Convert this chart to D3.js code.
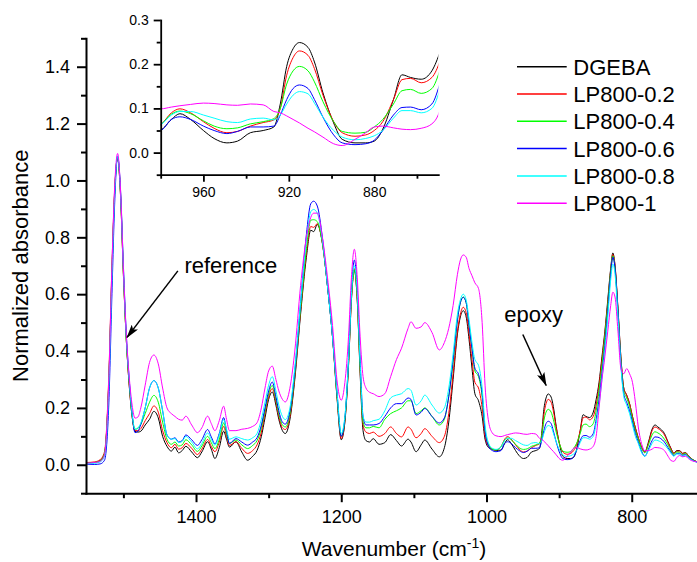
<!DOCTYPE html>
<html>
<head>
<meta charset="utf-8">
<script src="https://cdn.jsdelivr.net/npm/d3@7"></script>
<style>
  body { margin: 0; background: #fff; }
  svg text { font-family: "Liberation Sans", Arial, sans-serif; fill: #000; }
</style>
</head>
<body>
<div id="chart"></div>
<script>
// wavenumber grid (cm-1)
const wavenumber = [
  1550, 1540, 1532, 1526, 1520, 1516, 1512, 1508, 1504, 1500,
  1496, 1492, 1488, 1484, 1480, 1476, 1470, 1464, 1458, 1452,
  1446, 1440, 1434, 1429, 1424, 1419, 1414, 1406, 1398, 1392,
  1384, 1379, 1374, 1368, 1362, 1358, 1354, 1345, 1337, 1329,
  1322, 1316, 1310, 1305, 1300, 1295, 1290, 1286, 1281, 1277,
  1270, 1264, 1256, 1248, 1242, 1238, 1233, 1226, 1219, 1212,
  1206, 1200, 1195, 1190, 1186, 1182, 1178, 1174, 1170, 1166,
  1161, 1156, 1148, 1140, 1132, 1124, 1117, 1108, 1104, 1097,
  1090, 1085, 1075, 1065, 1058, 1052, 1046, 1040, 1036, 1032,
  1028, 1024, 1020, 1016, 1011, 1006, 1002, 997, 992, 987,
  980, 975, 971, 966, 960, 955, 949, 944, 938, 932,
  927, 924, 921, 918, 915, 911, 908, 904, 899, 895,
  889, 884, 880, 876, 871, 867, 863, 858, 853, 849,
  845, 841, 837, 833, 829, 826, 823, 819, 815, 811,
  807, 803, 799, 795, 791, 786, 782, 777, 772, 768,
  764, 760, 755, 750, 746, 742, 738, 734, 730, 726,
  722, 718, 714, 710
];

const dgeba = [
  .006, .008, .015, .040, .30, .66, .96, 1.08, .95, .67,
  .44, .28, .17, .118, .115, .118, .14, .16, .188, .165,
  .10, .065, .048, .062, .042, .05, .065, .045, .025, .045,
  .081, .055, .022, .06, .118, .09, .062, .081, .045, .016,
  .03, .05, .10, .165, .23, .256, .21, .16, .12, .11,
  .17, .30, .53, .73, .825, .82, .845, .78, .63, .45,
  .24, .088, .15, .35, .58, .685, .58, .32, .12, .085,
  .08, .092, .072, .078, .106, .085, .066, .09, .08, .046,
  .07, .087, .055, .028, .06, .15, .30, .46, .52, .542,
  .52, .44, .34, .25, .225, .17, .09, .06, .054, .05,
  .052, .075, .088, .075, .05, .032, .022, .026, .045, .05,
  .058, .11, .195, .235, .249, .238, .205, .135, .067, .03,
  .022, .022, .026, .053, .12, .176, .17, .166, .185, .23,
  .29, .38, .47, .58, .69, .745, .70, .55, .38, .27,
  .245, .215, .17, .13, .095, .06, .045, .08, .125, .14,
  .133, .125, .11, .08, .058, .04, .05, .05, .04, .043,
  .032, .022, .015, .01
];

const lp02 = [
  .008, .010, .018, .046, .32, .68, .97, 1.08, .95, .67,
  .44, .28, .17, .12, .12, .127, .155, .18, .207, .185,
  .12, .078, .06, .072, .055, .06, .075, .058, .036, .055,
  .089, .065, .046, .08, .135, .10, .068, .081, .058, .04,
  .05, .07, .115, .18, .24, .268, .22, .17, .13, .124,
  .18, .31, .54, .745, .838, .835, .848, .78, .63, .45,
  .245, .092, .155, .35, .58, .69, .58, .33, .14, .115,
  .11, .115, .10, .11, .133, .11, .098, .133, .125, .095,
  .11, .127, .10, .078, .10, .18, .32, .47, .53, .554,
  .535, .46, .37, .29, .27, .20, .10, .065, .055, .052,
  .063, .09, .099, .09, .07, .055, .045, .048, .06, .068,
  .074, .10, .175, .215, .23, .22, .19, .13, .07, .045,
  .037, .04, .05, .07, .12, .165, .168, .158, .17, .21,
  .28, .37, .46, .57, .685, .74, .70, .55, .38, .27,
  .245, .215, .17, .13, .095, .06, .045, .075, .12, .133,
  .128, .12, .105, .078, .056, .04, .048, .048, .04, .042,
  .032, .022, .015, .01
];

const lp04 = [
  .006, .008, .014, .040, .30, .66, .96, 1.083, .96, .68,
  .44, .29, .175, .125, .128, .142, .18, .22, .244, .22,
  .15, .09, .072, .08, .066, .07, .088, .07, .047, .066,
  .10, .078, .057, .09, .147, .11, .075, .087, .07, .057,
  .068, .085, .13, .19, .25, .279, .23, .18, .14, .133,
  .19, .32, .55, .76, .86, .862, .855, .78, .63, .45,
  .25, .10, .16, .36, .59, .685, .59, .34, .15, .13,
  .13, .135, .13, .16, .18, .19, .20, .225, .225, .18,
  .19, .20, .17, .14, .16, .24, .36, .51, .57, .59,
  .57, .49, .41, .33, .31, .24, .12, .07, .055, .052,
  .063, .087, .094, .088, .072, .06, .054, .056, .065, .07,
  .077, .10, .155, .185, .195, .185, .16, .115, .07, .048,
  .044, .046, .058, .075, .11, .14, .143, .134, .145, .19,
  .26, .35, .45, .56, .68, .735, .69, .54, .37, .26,
  .235, .205, .16, .12, .09, .055, .042, .07, .105, .116,
  .112, .105, .09, .07, .05, .036, .045, .044, .036, .04,
  .03, .021, .015, .01
];

const lp06 = [
  .002, .001, .003, .016, .22, .58, .92, 1.085, .97, .70,
  .46, .30, .18, .113, .118, .142, .20, .27, .296, .27,
  .19, .105, .09, .095, .08, .085, .105, .088, .068, .088,
  .124, .098, .074, .11, .166, .12, .075, .092, .08, .069,
  .08, .095, .14, .20, .26, .291, .24, .19, .15, .143,
  .20, .33, .57, .81, .918, .927, .91, .80, .63, .45,
  .26, .10, .165, .37, .61, .72, .62, .37, .17, .14,
  .14, .14, .145, .17, .20, .215, .215, .235, .23, .175,
  .185, .198, .17, .147, .165, .24, .37, .51, .57, .589,
  .57, .49, .41, .34, .318, .25, .12, .065, .05, .046,
  .05, .075, .081, .075, .06, .05, .043, .048, .058, .058,
  .06, .085, .12, .145, .153, .145, .12, .08, .04, .022,
  .018, .02, .028, .05, .085, .102, .103, .097, .11, .16,
  .23, .32, .42, .54, .67, .73, .69, .54, .36, .25,
  .22, .19, .15, .11, .08, .045, .03, .055, .085, .098,
  .097, .092, .08, .06, .045, .032, .04, .04, .033, .036,
  .027, .019, .013, .009
];

const lp08 = [
  .004, .005, .010, .030, .28, .64, .95, 1.085, .96, .69,
  .45, .30, .18, .125, .13, .147, .20, .27, .296, .27,
  .19, .105, .09, .092, .078, .082, .10, .08, .056, .075,
  .112, .09, .069, .105, .159, .125, .09, .098, .092, .087,
  .095, .11, .16, .22, .28, .31, .26, .21, .17, .159,
  .21, .34, .57, .79, .89, .898, .885, .79, .63, .45,
  .26, .11, .17, .37, .60, .70, .61, .36, .17, .15,
  .15, .155, .16, .19, .235, .245, .25, .268, .262, .21,
  .225, .245, .21, .182, .20, .27, .39, .53, .58, .60,
  .58, .51, .43, .37, .35, .27, .14, .075, .058, .054,
  .063, .085, .093, .093, .085, .078, .07, .068, .076, .078,
  .074, .085, .11, .13, .138, .133, .112, .08, .05, .035,
  .029, .032, .038, .05, .078, .095, .095, .09, .10, .145,
  .21, .30, .40, .52, .65, .706, .67, .52, .35, .24,
  .21, .18, .14, .10, .075, .04, .03, .05, .075, .087,
  .085, .08, .07, .055, .04, .03, .038, .037, .03, .033,
  .025, .018, .012, .009
];

const lp1 = [
  .006, .008, .012, .035, .31, .68, .98, 1.095, .97, .69,
  .46, .31, .21, .164, .168, .20, .28, .36, .386, .355,
  .27, .20, .18, .17, .16, .157, .171, .14, .113, .13,
  .171, .145, .12, .155, .206, .16, .12, .12, .125, .128,
  .135, .148, .20, .27, .33, .347, .30, .26, .23, .221,
  .28, .40, .63, .80, .87, .885, .885, .80, .66, .49,
  .30, .227, .29, .45, .66, .758, .66, .45, .31, .27,
  .255, .25, .24, .25, .31, .37, .41, .48, .503, .48,
  .485, .50, .465, .404, .43, .48, .56, .67, .72, .738,
  .73, .69, .665, .64, .62, .50, .28, .15, .112, .102,
  .099, .103, .106, .109, .112, .111, .108, .107, .11, .108,
  .093, .09, .083, .075, .067, .055, .047, .035, .02, .016,
  .03, .045, .058, .06, .056, .053, .052, .055, .065, .10,
  .20, .30, .38, .47, .56, .607, .59, .47, .34, .32,
  .338, .32, .29, .22, .133, .07, .049, .05, .055, .061,
  .06, .058, .05, .03, .015, .012, .025, .033, .028, .03,
  .022, .015, .012, .01
];

const seriesNames = ['DGEBA', 'LP800-0.2', 'LP800-0.4', 'LP800-0.6', 'LP800-0.8', 'LP800-1'];
const seriesValues = [dgeba, lp02, lp04, lp06, lp08, lp1];
const seriesColors = ['#000000', '#ff0000', '#00ff00', '#0000ff', '#00ffff', '#ff00ff'];

const xTicks = [1400, 1200, 1000, 800];
const xMinorTicks = [1500, 1300, 1100, 900];
const yTicks = [0, 0.2, 0.4, 0.6, 0.8, 1.0, 1.2, 1.4];
const yMinorTicks = [-0.1, 0.1, 0.3, 0.5, 0.7, 0.9, 1.1, 1.3, 1.5];
const insetXTicks = [960, 920, 880];
const insetXMinorTicks = [980, 940, 900, 860];
const insetYTicks = [0, 0.1, 0.2, 0.3];
const insetYMinorTicks = [-0.05, 0.05, 0.15, 0.25];

const width = 697;
const height = 562;

const svg = d3.select('#chart')
  .append('svg')
  .attr('width', width)
  .attr('height', height)
  .attr('xmlns', 'http://www.w3.org/2000/svg');

const defs = svg.append('defs');
defs.append('marker')
  .attr('id', 'head')
  .attr('markerUnits', 'userSpaceOnUse')
  .attr('markerWidth', 14)
  .attr('markerHeight', 8)
  .attr('refX', 13)
  .attr('refY', 4)
  .attr('orient', 'auto')
  .append('path')
  .attr('d', 'M0,0 L14,4 L0,8 L3,4 Z')
  .attr('fill', '#000');

// main scales
const x = d3.scaleLinear().domain([1551.5, 710]).range([86, 697.1]);
const y = d3.scaleLinear().domain([-0.1, 1.5]).range([493.2, 38.3]);

// inset scales
const xi = d3.scaleLinear().domain([980, 850]).range([160.7, 438.3]);
const yi = d3.scaleLinear().domain([-0.05, 0.3]).range([174.7, 20]);

defs.append('clipPath').attr('id', 'clipMain')
  .append('rect').attr('x', 86).attr('y', 30).attr('width', 612).attr('height', 464);
defs.append('clipPath').attr('id', 'clipInset')
  .append('rect').attr('x', 160.7).attr('y', 10).attr('width', 277.6).attr('height', 165);

const rows = wavenumber.map((w, i) => ({ w, vals: seriesValues.map((s) => s[i]) }));

function drawAxes(g, xs, ys, opt) {
  const xAxis = g.append('g')
    .attr('transform', `translate(0,${ys.range()[0]})`)
    .call(d3.axisBottom(xs).tickValues(opt.xTicks).tickSize(opt.major).tickSizeOuter(0)
      .tickPadding(opt.xPad).tickFormat(d3.format('d')));
  g.append('g')
    .attr('transform', `translate(0,${ys.range()[0]})`)
    .call(d3.axisBottom(xs).tickValues(opt.xMinor).tickSize(opt.minor).tickSizeOuter(0).tickFormat(''))
    .select('.domain').remove();
  const yAxis = g.append('g')
    .attr('transform', `translate(${xs.range()[0]},0)`)
    .call(d3.axisLeft(ys).tickValues(opt.yTicks).tickSize(opt.major).tickSizeOuter(0)
      .tickPadding(opt.yPad).tickFormat(d3.format('.1f')));
  g.append('g')
    .attr('transform', `translate(${xs.range()[0]},0)`)
    .call(d3.axisLeft(ys).tickValues(opt.yMinor).tickSize(opt.minor).tickSizeOuter(0).tickFormat(''))
    .select('.domain').remove();
  g.selectAll('.domain, .tick line')
    .attr('stroke', '#000')
    .attr('stroke-width', opt.stroke);
  g.selectAll('.domain').attr('stroke-linecap', 'square');
  [xAxis, yAxis].forEach((a) => a.selectAll('text')
    .style('font-family', '"Liberation Sans", Arial, sans-serif')
    .style('font-size', `${opt.font}px`)
    .attr('fill', '#000'));
}

// main spectra
const mainLines = svg.append('g').attr('clip-path', 'url(#clipMain)');
seriesValues.forEach((s, k) => {
  const line = d3.line()
    .x((d) => x(d.w))
    .y((d) => y(d.vals[k]))
    .curve(d3.curveMonotoneX);
  mainLines.append('path')
    .datum(rows)
    .attr('d', line)
    .attr('fill', 'none')
    .attr('stroke', seriesColors[k])
    .attr('stroke-width', 1);
});

drawAxes(svg.append('g'), x, y, {
  xTicks, xMinor: xMinorTicks, yTicks, yMinor: yMinorTicks,
  major: 9, minor: 5, xPad: 8, yPad: 7, font: 18, stroke: 2,
});

// inset spectra
const insetLines = svg.append('g').attr('clip-path', 'url(#clipInset)');
seriesValues.forEach((s, k) => {
  const line = d3.line()
    .x((d) => xi(d.w))
    .y((d) => yi(d.vals[k]))
    .curve(d3.curveMonotoneX);
  insetLines.append('path')
    .datum(rows.filter((d) => d.w <= 990 && d.w >= 840))
    .attr('d', line)
    .attr('fill', 'none')
    .attr('stroke', seriesColors[k])
    .attr('stroke-width', 1);
});

drawAxes(svg.append('g'), xi, yi, {
  xTicks: insetXTicks, xMinor: insetXMinorTicks, yTicks: insetYTicks, yMinor: insetYMinorTicks,
  major: 7, minor: 4, xPad: 5, yPad: 5, font: 14, stroke: 1.8,
});

// axis titles
svg.append('text')
  .attr('transform', `translate(28,${(y.range()[0] + y.range()[1]) / 2}) rotate(-90)`)
  .attr('text-anchor', 'middle')
  .style('font-size', '22px')
  .text('Normalized absorbance');

const xTitle = svg.append('text')
  .attr('x', 394)
  .attr('y', 556)
  .attr('text-anchor', 'middle')
  .style('font-size', '21px');
xTitle.append('tspan').text('Wavenumber (cm');
xTitle.append('tspan').attr('dy', -8).style('font-size', '14px').text('-1');
xTitle.append('tspan').attr('dy', 8).text(')');

// annotations
const notes = [
  { label: 'reference', tx: 1416, ty: 0.676, from: [1425, 0.682], to: [1495, 0.448] },
  { label: 'epoxy', tx: 975.4, ty: 0.501, from: [950, 0.458], to: [917.9, 0.279] },
];
notes.forEach((n) => {
  svg.append('text')
    .attr('x', x(n.tx))
    .attr('y', y(n.ty))
    .style('font-size', '22px')
    .text(n.label);
  svg.append('line')
    .attr('x1', x(n.from[0])).attr('y1', y(n.from[1]))
    .attr('x2', x(n.to[0])).attr('y2', y(n.to[1]))
    .attr('stroke', '#000')
    .attr('stroke-width', 1.5)
    .attr('marker-end', 'url(#head)');
});

// legend
const legend = svg.append('g').attr('transform', 'translate(517,66.7)');
seriesNames.forEach((name, i) => {
  const row = legend.append('g').attr('transform', `translate(0,${i * 27.3})`);
  row.append('line')
    .attr('x1', 0).attr('x2', 49.7)
    .attr('stroke', seriesColors[i])
    .attr('stroke-width', 1.5);
  row.append('text')
    .attr('x', 56.3)
    .attr('y', 8)
    .style('font-size', '22px')
    .text(name);
});
</script>
</body>
</html>
